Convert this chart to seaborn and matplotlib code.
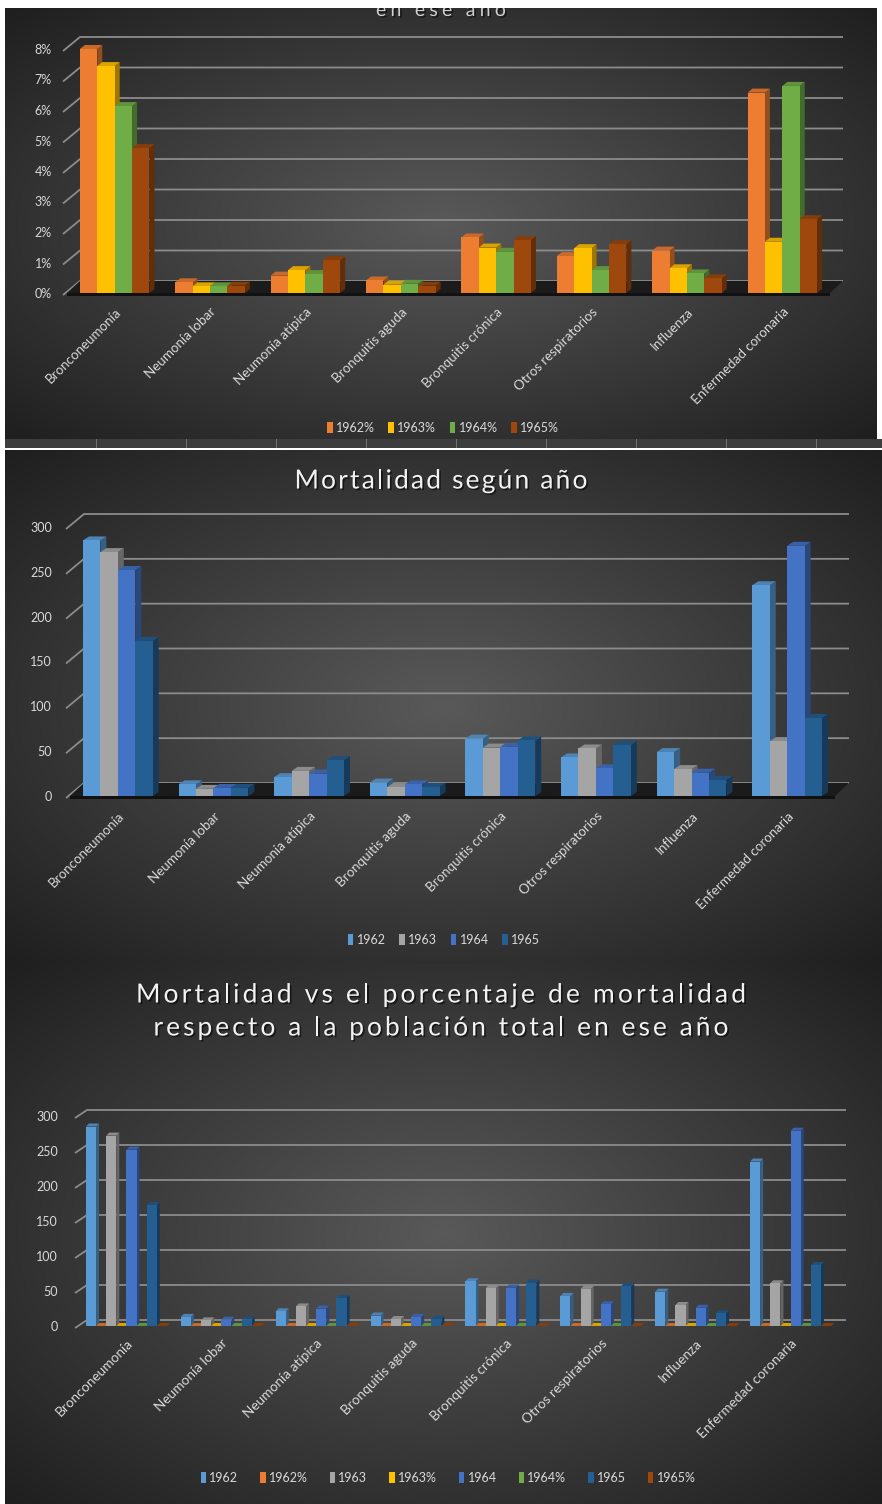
import numpy as np
import pandas as pd
import matplotlib
matplotlib.use("Agg")
import matplotlib.pyplot as plt
import seaborn as sns
from matplotlib.patches import Polygon, Rectangle
from matplotlib import colors as mcolors
from matplotlib import patheffects as pe
from matplotlib.ticker import FuncFormatter
from matplotlib.font_manager import FontProperties

# ---------------------------------------------------------------- data
categories = ["Bronconeumonía", "Neumonía lobar", "Neumonía atípica",
              "Bronquitis aguda", "Bronquitis crónica", "Otros respiratorios",
              "Influenza", "Enfermedad coronaria"]
years = ["1962", "1963", "1964", "1965"]

deaths_1962 = [285, 13, 21, 15, 64, 43, 49, 235]
deaths_1963 = [272, 8, 28, 10, 54, 53, 30, 61]
deaths_1964 = [252, 9, 25, 13, 55, 31, 26, 279]
deaths_1965 = [173, 9, 40, 10, 62, 57, 18, 87]

pct_1962 = [8.00, 0.35, 0.57, 0.41, 1.82, 1.21, 1.39, 6.57]
pct_1963 = [7.44, 0.22, 0.75, 0.27, 1.49, 1.47, 0.81, 1.68]
pct_1964 = [6.13, 0.22, 0.62, 0.30, 1.35, 0.75, 0.64, 6.79]
pct_1965 = [4.75, 0.24, 1.08, 0.24, 1.74, 1.60, 0.48, 2.42]

pct_ticks = [0, 1, 2, 3, 4, 5, 6, 7, 8]
count_ticks = [0, 50, 100, 150, 200, 250, 300]

deaths = dict(zip(years, [deaths_1962, deaths_1963, deaths_1964, deaths_1965]))
pcts = dict(zip(years, [pct_1962, pct_1963, pct_1964, pct_1965]))

count_colors = {"1962": "#5b9bd5", "1963": "#a5a5a5", "1964": "#4472c4", "1965": "#255e91"}
pct_colors = {"1962%": "#ed7d31", "1963%": "#ffc000", "1964%": "#70ad47", "1965%": "#9e480e"}

# ---------------------------------------------------------------- style
sns.set_theme(style="white")
FAMILY = ["Lato", "DejaVu Sans"]
plt.rcParams["font.family"] = FAMILY
TXT = "#d9d9d9"
GRID = "#8c8c8c"

W, H = 882, 1504
fig = plt.figure(figsize=(W / 100, H / 100), dpi=100)
renderer = fig.canvas.get_renderer()

# ---------------------------------------------------------------- backdrop
img = np.ones((H, W, 3))


def radial_fill(x0, x1, y0, y1, c_in=0.35, c_out=0.12):
    yy, xx = np.mgrid[y0:y1, x0:x1].astype(float)
    cx, cy = (x0 + x1) / 2, (y0 + y1) / 2
    r = np.hypot((xx - cx) / ((x1 - x0) / 2), (yy - cy) / ((y1 - y0) / 2)) / np.sqrt(2)
    v = c_in + (c_out - c_in) * np.clip(r, 0, 1)
    img[y0:y1, x0:x1, :] = v[..., None]


radial_fill(5, 877, 8, 439)
img[439:448, 5:882, :] = 0.24
for cx in range(96, 882, 90):
    img[439:448, cx, :] = 0.45
radial_fill(5, 882, 450, 962)
radial_fill(5, 882, 962, 1504)

bg = fig.add_axes([0, 0, 1, 1], zorder=-10)
bg.imshow(img, extent=(0, W, H, 0), aspect="auto", interpolation="bilinear")
bg.set_xlim(0, W)
bg.set_ylim(H, 0)
bg.axis("off")

title_fx = [pe.withSimplePatchShadow(offset=(1.2, -1.2), shadow_rgbFace="black", alpha=0.55)]


def spaced_title(cx, y, s, size, width, va="center", color="#f2f2f2", zorder=5):
    """Centred text with a little letter spacing so the line spans `width` pixels."""
    prop = FontProperties(family=FAMILY, size=size)
    meas = lambda t: renderer.get_text_width_height_descent(t, prop, ismath=False)[0]
    bar = meas("|")
    natural = meas(s)
    track = (width - natural) / max(len(s) - 1, 1)
    x0 = cx - width / 2
    out = []
    for i, ch in enumerate(s):
        if ch == " ":
            continue
        xi = x0 + (meas(s[:i] + "|") - bar if i else 0) + i * track
        out.append(bg.text(xi, y, ch, ha="left", va=va, fontproperties=prop, color=color,
                           zorder=zorder, path_effects=title_fx))
    return out


# ---------------------------------------------------------------- helpers
def make_axes(x0, x1, y_zero, y_top, ymax):
    ax = fig.add_axes([x0 / W, 1 - y_zero / H, (x1 - x0) / W, (y_zero - y_top) / H])
    ax.set_ylim(0, ymax)
    ax.patch.set_alpha(0)
    for s in ax.spines.values():
        s.set_visible(False)
    ppx = (x1 - x0) / 8.0
    ppy = (y_zero - y_top) / ymax
    return ax, ppx, ppy


def back_wall(ax, ticks, ppx, ppy, wall, floor=True):
    bdx, bdy = wall[0] / ppx, wall[1] / ppy
    lead = 4 / ppx
    for v in ticks:
        ax.plot([-0.5 - lead, -0.5 + bdx, 7.5 + bdx], [v - 2 / ppy, v + bdy, v + bdy],
                color=GRID, lw=1.3, zorder=1, clip_on=False, solid_capstyle="butt")
    if floor:
        ax.add_patch(Polygon([(-0.5, 0), (7.5, 0), (7.5 + bdx, bdy), (-0.5 + bdx, bdy)],
                             closed=True, fc="#1b1b1b", ec="none", zorder=2, clip_on=False))
        ax.add_patch(Polygon([(-0.5, 0), (7.5, 0), (7.5, -3 / ppy), (-0.5, -3 / ppy)],
                             closed=True, fc="#111111", ec="none", zorder=2, clip_on=False))


def extrude(ax, ppx, ppy, depth):
    ddx, ddy = depth[0] / ppx, depth[1] / ppy
    bars = sorted([p for p in ax.patches if isinstance(p, Rectangle)], key=lambda p: p.get_x())
    z = 3
    for b in bars:
        x, w, h = b.get_x(), b.get_width(), b.get_height()
        c = np.array(mcolors.to_rgb(b.get_facecolor()))
        ax.add_patch(Polygon([(x + w, 0), (x + w + ddx, ddy), (x + w + ddx, h + ddy), (x + w, h)],
                             closed=True, fc=c * 0.62, ec="none", zorder=z, clip_on=False))
        ax.add_patch(Polygon([(x, h), (x + ddx, h + ddy), (x + w + ddx, h + ddy), (x + w, h)],
                             closed=True, fc=np.clip(c * 0.85, 0, 1), ec="none",
                             zorder=z + 1, clip_on=False))
        b.set_zorder(z + 2)
        b.set_clip_on(False)
        z += 3


def finish_axes(ax, ticks, fmt, ypad, xpad, xsize):
    ax.set_xlim(-0.5, 7.5)
    ax.set_xlabel("")
    ax.set_ylabel("")
    ax.set_yticks(ticks)
    ax.yaxis.set_major_formatter(FuncFormatter(fmt))
    ax.set_xticks(range(len(categories)))
    ax.set_xticklabels(categories, rotation=45, ha="right", va="top",
                       rotation_mode="anchor", color=TXT, fontsize=xsize)
    ax.tick_params(axis="x", length=0, pad=xpad)
    ax.tick_params(axis="y", length=0, pad=ypad, labelcolor=TXT, labelsize=9)
    ax.grid(False)


def legend_at(labels, colors, cx, cy, spacing=1.1):
    handles = [Rectangle((0, 0), 1, 1, fc=c, ec="none") for c in colors]
    fig.legend(handles, labels, loc="center", bbox_to_anchor=(cx / W, 1 - cy / H),
               ncol=len(labels), frameon=False, fontsize=9, labelcolor=TXT,
               handlelength=0.45, handleheight=0.95, handletextpad=0.25,
               columnspacing=spacing)


TITLE_PT = 19

# ---------------------------------------------------------------- panel 1: percentages
df1 = pd.DataFrame([(c, f"{y}%", v) for y in years for c, v in zip(categories, pcts[y])],
                   columns=["causa", "serie", "valor"])
ax1, px1, py1 = make_axes(67, 830, 293, 49, 8)
back_wall(ax1, pct_ticks, px1, py1, (13, 12))
sns.barplot(data=df1, x="causa", y="valor", hue="serie", palette=pct_colors,
            width=0.73, saturation=1, legend=False, ax=ax1, edgecolor="none", linewidth=0)
extrude(ax1, px1, py1, (5, 4))
finish_axes(ax1, pct_ticks, lambda v, p: f"{v:.0f}%", 11, 9, 9.6)
legend_at(list(pct_colors), list(pct_colors.values()), 443, 428)

# last line of the upper chart's title; the sheet's white margin hides its upper part
spaced_title(441, 16, "en ese año", 14, 130, va="baseline", color="#cfcfcf")
bg.add_patch(Rectangle((0, 0), W, 8, fc="white", ec="none", zorder=6))
bg.add_patch(Rectangle((877, 0), 5, 439, fc="white", ec="none", zorder=6))

# ---------------------------------------------------------------- panel 2: deaths
df2 = pd.DataFrame([(c, y, v) for y in years for c, v in zip(categories, deaths[y])],
                   columns=["causa", "serie", "valor"])
ax2, px2, py2 = make_axes(70, 835, 796, 527, 300)
back_wall(ax2, count_ticks, px2, py2, (14, 13))
sns.barplot(data=df2, x="causa", y="valor", hue="serie", palette=count_colors,
            width=0.73, saturation=1, legend=False, ax=ax2, edgecolor="none", linewidth=0)
extrude(ax2, px2, py2, (6, 4))
finish_axes(ax2, count_ticks, lambda v, p: f"{v:.0f}", 13, 10, 9.6)
legend_at(list(count_colors), list(count_colors.values()), 444, 940)
spaced_title(441, 481, "Mortalidad según año", TITLE_PT, 293)

# ---------------------------------------------------------------- panel 3: deaths and shares
rows = []
for y in years:
    rows += [(c, y, v) for c, v in zip(categories, deaths[y])]
    rows += [(c, f"{y}%", v / 100) for c, v in zip(categories, pcts[y])]
df3 = pd.DataFrame(rows, columns=["causa", "serie", "valor"])
order3 = [s for y in years for s in (y, f"{y}%")]
pal3 = {**count_colors, **pct_colors}
ax3, px3, py3 = make_axes(79, 838, 1326, 1116, 300)
back_wall(ax3, count_ticks, px3, py3, (8, 6), floor=False)
sns.barplot(data=df3, x="causa", y="valor", hue="serie", hue_order=order3, palette=pal3,
            width=0.855, saturation=1, legend=False, ax=ax3, edgecolor="none", linewidth=0)
extrude(ax3, px3, py3, (3, 3))
finish_axes(ax3, count_ticks, lambda v, p: f"{v:.0f}", 15, 8, 9.8)
legend_at(order3, [pal3[s] for s in order3], 448, 1478, spacing=1.75)
spaced_title(441, 995, "Mortalidad vs el porcentaje de mortalidad", TITLE_PT, 610)
spaced_title(441, 1028, "respecto a la población total en ese año", TITLE_PT, 575)

fig.savefig("out.png", dpi=100)
